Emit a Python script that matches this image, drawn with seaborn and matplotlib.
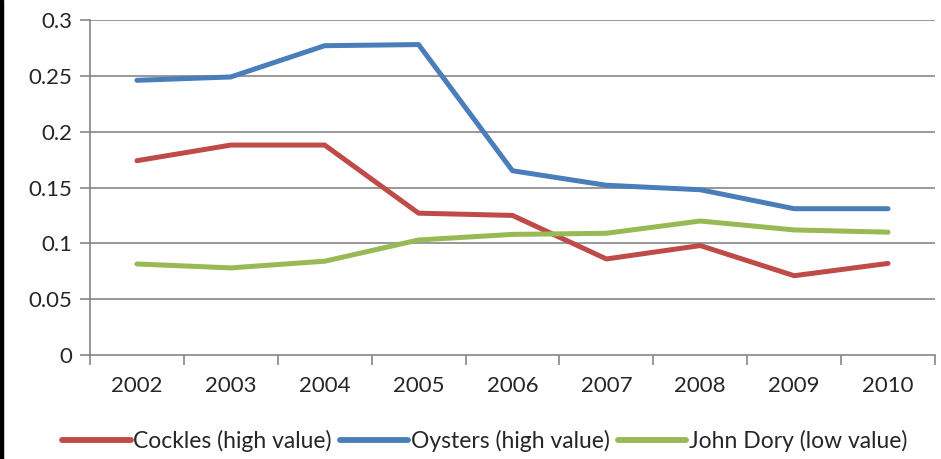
import pandas as pd
import matplotlib
matplotlib.use("Agg")
import matplotlib.pyplot as plt
import seaborn as sns
from matplotlib.patches import Rectangle
from matplotlib.ticker import FixedLocator

years = ["2002", "2003", "2004", "2005", "2006", "2007", "2008", "2009", "2010"]
cockles = [0.174, 0.188, 0.188, 0.127, 0.125, 0.086, 0.098, 0.071, 0.082]
oysters = [0.246, 0.249, 0.277, 0.278, 0.165, 0.152, 0.148, 0.131, 0.131]
john_dory = [0.0815, 0.078, 0.084, 0.103, 0.108, 0.109, 0.120, 0.112, 0.110]
y_ticks = [0, 0.05, 0.1, 0.15, 0.2, 0.25, 0.3]
y_labels = ["0", "0.05", "0.1", "0.15", "0.2", "0.25", "0.3"]

series = {
    "Cockles (high value)": cockles,
    "Oysters (high value)": oysters,
    "John Dory (low value)": john_dory,
}
colors = {
    "Cockles (high value)": "#BE4B48",
    "Oysters (high value)": "#4A7EBB",
    "John Dory (low value)": "#98B954",
}

rows = []
for name, vals in series.items():
    for i, v in enumerate(vals):
        rows.append({"pos": i, "value": v, "series": name})
df = pd.DataFrame(rows)

sns.set_style("white")
plt.rcParams['font.family'] = ['Lato', 'DejaVu Sans']

fig = plt.figure(figsize=(9.41, 4.59), dpi=100)
ax = fig.add_axes([0.0956, 0.2266, 0.898, 0.7298])

for y in y_ticks[1:]:
    ax.axhline(y, color="#868686", linewidth=1.2, zorder=0)

sns.lineplot(data=df, x="pos", y="value", hue="series", palette=colors,
             linewidth=3.6, ax=ax, legend=True)
for ln in ax.get_lines():
    ln.set_solid_capstyle("round")
    ln.set_solid_joinstyle("round")

ax.set_xlim(-0.5, 8.5)
ax.set_ylim(0, 0.3)
ax.set_yticks(y_ticks)
ax.set_yticklabels(y_labels)
ax.set_xticks(range(len(years)))
ax.set_xticklabels(years)
ax.xaxis.set_minor_locator(FixedLocator([i - 0.5 for i in range(len(years) + 1)]))
ax.tick_params(axis="x", which="major", length=0, pad=15, labelsize=16)
ax.tick_params(axis="x", which="minor", length=7, width=1.2, color="#868686", direction="out", bottom=True)
ax.tick_params(axis="y", length=7, width=1.2, color="#868686", direction="out", left=True, pad=6, labelsize=16)
ax.set_xlabel("")
ax.set_ylabel("")

for side in ["top", "right"]:
    ax.spines[side].set_visible(False)
for side in ["left", "bottom"]:
    ax.spines[side].set_color("#868686")
    ax.spines[side].set_linewidth(1.2)

handles, labels = ax.get_legend_handles_labels()
ax.get_legend().remove()
leg = fig.legend(handles, labels, loc="lower center", bbox_to_anchor=(0.515, -0.03), ncol=3,
                 frameon=False, fontsize=16.5, handlelength=3.0, handletextpad=0.1,
                 columnspacing=0.35)
for h in leg.get_lines():
    h.set_linewidth(4.2)
    h.set_solid_capstyle("round")

fig.patches.append(Rectangle((0, 0), 3 / 941, 1, transform=fig.transFigure,
                             color="black", zorder=10))

fig.savefig("out.png", dpi=100)
